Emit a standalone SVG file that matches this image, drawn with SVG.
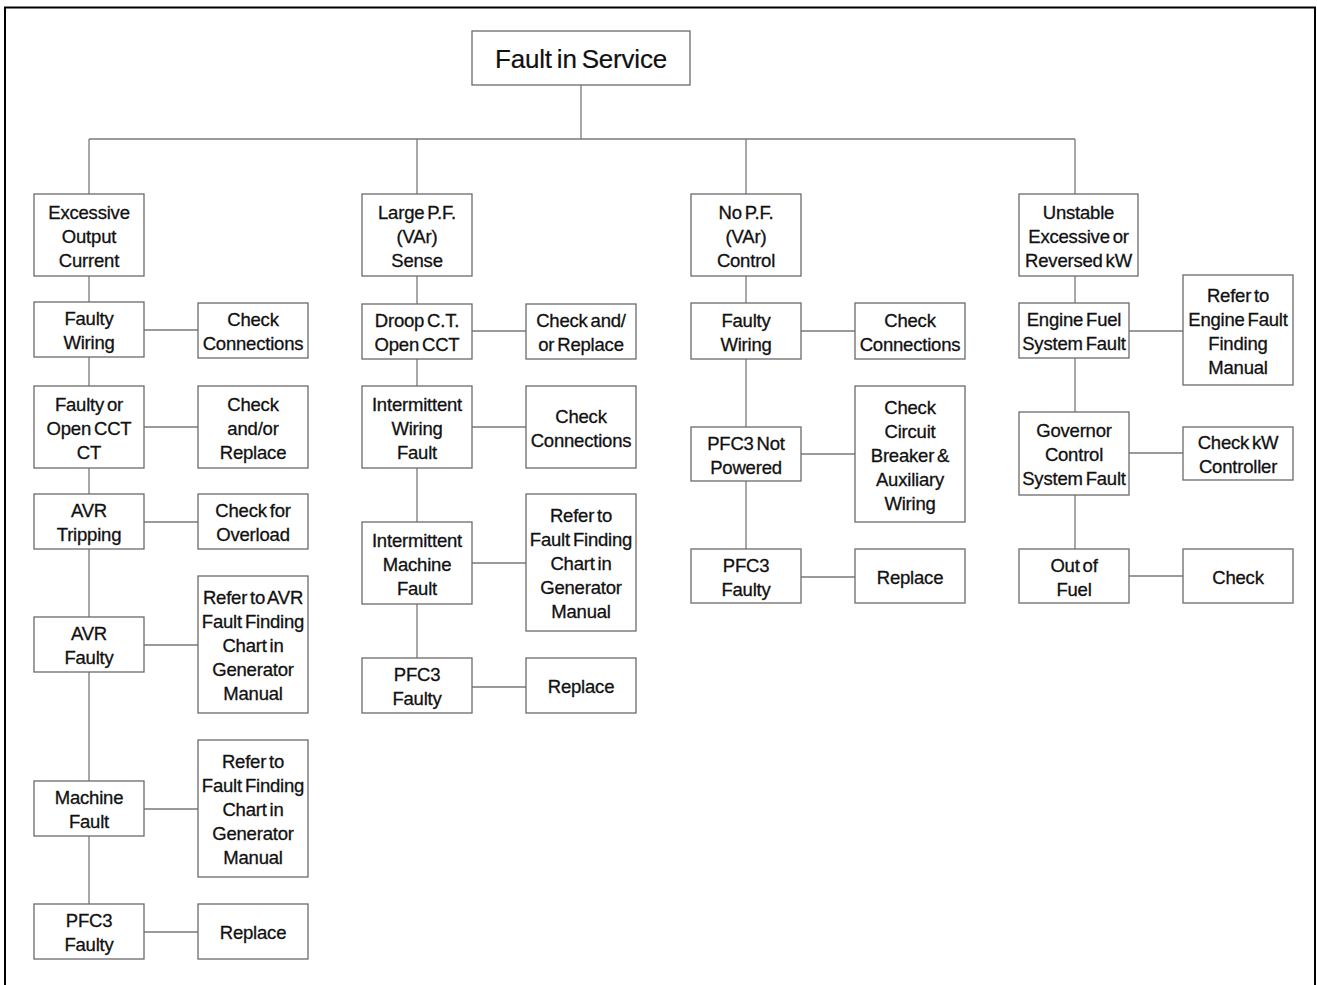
<svg xmlns="http://www.w3.org/2000/svg" width="1317" height="985" viewBox="0 0 1317 985">
<style>
.b{fill:#fff;stroke:#6a6a6a;stroke-width:1.3}
.c{fill:none;stroke:#7a7a7a;stroke-width:1.3}
.t{font-family:"Liberation Sans",Arial,sans-serif;font-size:18.5px;fill:#111;stroke:#111;stroke-width:0.3px;text-anchor:middle;word-spacing:-2px;letter-spacing:-0.2px}
.h{font-size:26px;stroke-width:0.2px}
</style>
<rect x="0" y="0" width="1317" height="985" fill="#fff"/>
<rect x="5" y="7.5" width="1310" height="995" fill="none" stroke="#000" stroke-width="2"/>
<g id="connectors" class="c">
<path d="M581,85V139M89,139H1075M89,139V194M417,139V194M746,139V194M1075,139V194"/>
<path d="M89,276V904M417,276V658M746,276V549M1075,276V549"/>
<path d="M144,330H198M144,427H198M144,522H198M144,645H198M144,809H198M144,932H198"/>
<path d="M472,331H526M472,427H526M472,563H526M472,687H526"/>
<path d="M801,331H855M801,454H855M801,577H855"/>
<path d="M1129,331H1183M1129,453H1183M1129,576H1183"/>
</g>
<g id="root"><rect class="b" x="472" y="31" width="218" height="54"/><text class="t h" x="581" y="67.5">Fault in Service</text></g>

<g id="n1"><rect class="b" x="34" y="194" width="110" height="82"/><text class="t" x="89" y="218.5">Excessive</text><text class="t" x="89" y="242.5">Output</text><text class="t" x="89" y="266.5">Current</text></g>
<g id="n1a"><rect class="b" x="34" y="302" width="110" height="55"/><text class="t" x="89" y="325">Faulty</text><text class="t" x="89" y="349">Wiring</text></g>
<g id="n1b"><rect class="b" x="34" y="386" width="110" height="82"/><text class="t" x="89" y="410.5">Faulty or</text><text class="t" x="89" y="434.5">Open CCT</text><text class="t" x="89" y="458.5">CT</text></g>
<g id="n1c"><rect class="b" x="34" y="494" width="110" height="55"/><text class="t" x="89" y="517">AVR</text><text class="t" x="89" y="541">Tripping</text></g>
<g id="n1d"><rect class="b" x="34" y="617" width="110" height="55"/><text class="t" x="89" y="640">AVR</text><text class="t" x="89" y="664">Faulty</text></g>
<g id="n1e"><rect class="b" x="34" y="781" width="110" height="55"/><text class="t" x="89" y="804">Machine</text><text class="t" x="89" y="828">Fault</text></g>
<g id="n1f"><rect class="b" x="34" y="904" width="110" height="55"/><text class="t" x="89" y="927">PFC3</text><text class="t" x="89" y="951">Faulty</text></g>

<g id="r1a"><rect class="b" x="198" y="303" width="110" height="55"/><text class="t" x="253" y="326">Check</text><text class="t" x="253" y="350">Connections</text></g>
<g id="r1b"><rect class="b" x="198" y="386" width="110" height="82"/><text class="t" x="253" y="410.5">Check</text><text class="t" x="253" y="434.5">and/or</text><text class="t" x="253" y="458.5">Replace</text></g>
<g id="r1c"><rect class="b" x="198" y="494" width="110" height="55"/><text class="t" x="253" y="517">Check for</text><text class="t" x="253" y="541">Overload</text></g>
<g id="r1d"><rect class="b" x="198" y="576" width="110" height="137"/><text class="t" x="253" y="604">Refer to AVR</text><text class="t" x="253" y="628">Fault Finding</text><text class="t" x="253" y="652">Chart in</text><text class="t" x="253" y="676">Generator</text><text class="t" x="253" y="700">Manual</text></g>
<g id="r1e"><rect class="b" x="198" y="740" width="110" height="137"/><text class="t" x="253" y="768">Refer to</text><text class="t" x="253" y="792">Fault Finding</text><text class="t" x="253" y="816">Chart in</text><text class="t" x="253" y="840">Generator</text><text class="t" x="253" y="864">Manual</text></g>
<g id="r1f"><rect class="b" x="198" y="904" width="110" height="55"/><text class="t" x="253" y="939">Replace</text></g>

<g id="n2"><rect class="b" x="362" y="194" width="110" height="82"/><text class="t" x="417" y="218.5">Large P.F.</text><text class="t" x="417" y="242.5">(VAr)</text><text class="t" x="417" y="266.5">Sense</text></g>
<g id="n2a"><rect class="b" x="362" y="304" width="110" height="55"/><text class="t" x="417" y="327">Droop C.T.</text><text class="t" x="417" y="351">Open CCT</text></g>
<g id="n2b"><rect class="b" x="362" y="386" width="110" height="82"/><text class="t" x="417" y="410.5">Intermittent</text><text class="t" x="417" y="434.5">Wiring</text><text class="t" x="417" y="458.5">Fault</text></g>
<g id="n2c"><rect class="b" x="362" y="522" width="110" height="82"/><text class="t" x="417" y="546.5">Intermittent</text><text class="t" x="417" y="570.5">Machine</text><text class="t" x="417" y="594.5">Fault</text></g>
<g id="n2d"><rect class="b" x="362" y="658" width="110" height="55"/><text class="t" x="417" y="681">PFC3</text><text class="t" x="417" y="705">Faulty</text></g>

<g id="r2a"><rect class="b" x="526" y="304" width="110" height="55"/><text class="t" x="581" y="327">Check and/</text><text class="t" x="581" y="351">or Replace</text></g>
<g id="r2b"><rect class="b" x="526" y="386" width="110" height="82"/><text class="t" x="581" y="422.5">Check</text><text class="t" x="581" y="446.5">Connections</text></g>
<g id="r2c"><rect class="b" x="526" y="494" width="110" height="137"/><text class="t" x="581" y="522">Refer to</text><text class="t" x="581" y="546">Fault Finding</text><text class="t" x="581" y="570">Chart in</text><text class="t" x="581" y="594">Generator</text><text class="t" x="581" y="618">Manual</text></g>
<g id="r2d"><rect class="b" x="526" y="658" width="110" height="55"/><text class="t" x="581" y="693">Replace</text></g>

<g id="n3"><rect class="b" x="691" y="194" width="110" height="82"/><text class="t" x="746" y="218.5">No P.F.</text><text class="t" x="746" y="242.5">(VAr)</text><text class="t" x="746" y="266.5">Control</text></g>
<g id="n3a"><rect class="b" x="691" y="303" width="110" height="56"/><text class="t" x="746" y="326.5">Faulty</text><text class="t" x="746" y="350.5">Wiring</text></g>
<g id="n3b"><rect class="b" x="691" y="427" width="110" height="54"/><text class="t" x="746" y="449.5">PFC3 Not</text><text class="t" x="746" y="473.5">Powered</text></g>
<g id="n3c"><rect class="b" x="691" y="549" width="110" height="54"/><text class="t" x="746" y="571.5">PFC3</text><text class="t" x="746" y="595.5">Faulty</text></g>

<g id="r3a"><rect class="b" x="855" y="303" width="110" height="56"/><text class="t" x="910" y="326.5">Check</text><text class="t" x="910" y="350.5">Connections</text></g>
<g id="r3b"><rect class="b" x="855" y="386" width="110" height="136"/><text class="t" x="910" y="413.5">Check</text><text class="t" x="910" y="437.5">Circuit</text><text class="t" x="910" y="461.5">Breaker &amp;</text><text class="t" x="910" y="485.5">Auxiliary</text><text class="t" x="910" y="509.5">Wiring</text></g>
<g id="r3c"><rect class="b" x="855" y="549" width="110" height="54"/><text class="t" x="910" y="583.5">Replace</text></g>

<g id="n4"><rect class="b" x="1019" y="194" width="119" height="82"/><text class="t" x="1078.5" y="218.5">Unstable</text><text class="t" x="1078.5" y="242.5">Excessive or</text><text class="t" x="1078.5" y="266.5">Reversed kW</text></g>
<g id="n4a"><rect class="b" x="1019" y="303" width="110" height="55"/><text class="t" x="1074" y="326">Engine Fuel</text><text class="t" x="1074" y="350">System Fault</text></g>
<g id="n4b"><rect class="b" x="1019" y="412" width="110" height="83"/><text class="t" x="1074" y="437">Governor</text><text class="t" x="1074" y="461">Control</text><text class="t" x="1074" y="485">System Fault</text></g>
<g id="n4c"><rect class="b" x="1019" y="549" width="110" height="54"/><text class="t" x="1074" y="571.5">Out of</text><text class="t" x="1074" y="595.5">Fuel</text></g>

<g id="r4a"><rect class="b" x="1183" y="275" width="110" height="110"/><text class="t" x="1238" y="301.5">Refer to</text><text class="t" x="1238" y="325.5">Engine Fault</text><text class="t" x="1238" y="349.5">Finding</text><text class="t" x="1238" y="373.5">Manual</text></g>
<g id="r4b"><rect class="b" x="1183" y="427" width="110" height="53"/><text class="t" x="1238" y="449">Check kW</text><text class="t" x="1238" y="473">Controller</text></g>
<g id="r4c"><rect class="b" x="1183" y="549" width="110" height="54"/><text class="t" x="1238" y="583.5">Check</text></g>
</svg>
